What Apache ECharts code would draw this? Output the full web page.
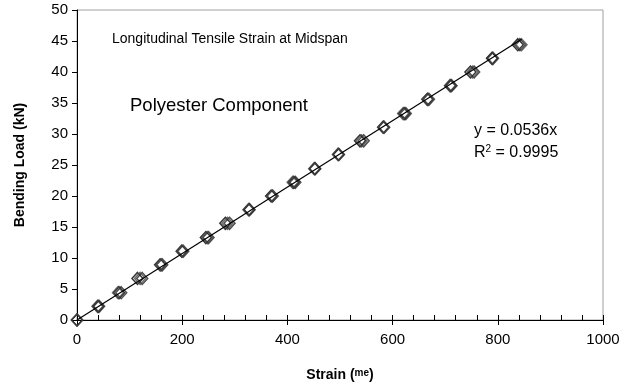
<!DOCTYPE html>
<html>
<head>
<meta charset="utf-8">
<script src="https://cdn.jsdelivr.net/npm/echarts@6/dist/echarts.min.js"></script>
<style>
  html, body { margin: 0; padding: 0; background: #fff; }
  #chart { width: 641px; height: 385px; }
</style>
</head>
<body>
<div id="chart"></div>
<script>
// load steps (kN)
const loads = [0, 2.2, 4.4, 6.7, 8.9, 11.1, 13.3, 15.6, 17.8, 20.0, 22.2, 24.4, 26.7, 28.9, 31.1, 33.3, 35.6, 37.8, 40.0, 42.2, 44.4]
// strain readings of the gauges
const gaugeA = [0, 40, 80, 115, 158, 199, 245, 282, 327, 369, 412, 452, 497, 538, 582, 622, 666, 710, 748, 789, 838]
const gaugeB = [0, 42, 84, 124, 162, 202, 250, 290, 328, 372, 415, 453, 498, 545, 584, 625, 669, 712, 755, 790, 842]
const gaugeC = [0, 39, 78, 120, 160, 200, 248, 286, 326, 371, 410, 451, 496, 541, 583, 620, 667, 709, 752, 791, 845]
// trendline end points
const trendX = [0, 845]
const trendY = [0, 45.3]

const font = '"Liberation Sans", Arial, sans-serif'

const pairs = (xs, ys) => xs.map((x, i) => [x, ys[i]])

const chart = echarts.init(document.getElementById('chart'))

const scatter = (name, xs, color) => ({
  name: name,
  type: 'scatter',
  xAxisIndex: 0,
  data: pairs(xs, loads),
  symbol: 'diamond',
  symbolSize: [11, 12],
  itemStyle: { color: 'rgba(255,255,255,0)', borderColor: color, borderWidth: 1.5 },
  z: 3,
})

chart.setOption({
  animation: false,
  grid: {
    left: 77, right: 38, top: 10, bottom: 65,
    outerBoundsMode: 'none',
    show: true, borderColor: '#a0a0a0', borderWidth: 1,
  },
  xAxis: [
    {
      type: 'value', min: 0, max: 1000, interval: 200,
      name: '{b|Strain (}{s|me}{b|)}',
      nameLocation: 'middle', nameGap: 48,
      nameTextStyle: {
        fontFamily: font, fontSize: 14, fontWeight: 'bold', color: '#000',
        rich: {
          b: { fontFamily: font, fontSize: 14, fontWeight: 'bold', color: '#000' },
          s: { fontFamily: font, fontSize: 10, color: '#000', padding: [0, 0, 4, 0] },
        },
      },
      axisLine: { show: true, lineStyle: { color: '#000', width: 1 } },
      axisTick: { show: true, inside: false, length: 5, lineStyle: { color: '#000' } },
      axisLabel: { fontFamily: font, fontSize: 15, color: '#000', margin: 12, formatter: v => String(v) },
      splitLine: { show: false },
    },
    {
      type: 'value', min: 0, max: 1000, interval: 40,
      position: 'bottom',
      axisLine: { show: false },
      axisTick: { show: true, inside: true, length: 5, lineStyle: { color: '#000' } },
      axisLabel: { show: false },
      splitLine: { show: false },
    },
  ],
  yAxis: {
    type: 'value', min: 0, max: 50, interval: 5,
    name: 'Bending Load (kN)',
    nameLocation: 'middle', nameGap: 50,
    nameTextStyle: { fontFamily: font, fontSize: 14, fontWeight: 'bold', color: '#000' },
    axisLine: { show: true, lineStyle: { color: '#000', width: 1 } },
    axisTick: { show: true, inside: false, length: 5, lineStyle: { color: '#000' } },
    axisLabel: { fontFamily: font, fontSize: 15, color: '#000', margin: 9 },
    splitLine: { show: false },
  },
  graphic: [
    {
      type: 'text', left: 112, top: 32,
      style: { text: 'Longitudinal Tensile Strain at Midspan', font: '14px ' + font, fill: '#000' },
    },
    {
      type: 'text', left: 130, top: 96,
      style: { text: 'Polyester Component', font: '18.5px ' + font, fill: '#000' },
    },
    {
      type: 'text', left: 474, top: 123,
      style: { text: 'y = 0.0536x', font: '16px ' + font, fill: '#000' },
    },
    {
      type: 'text', left: 474, top: 144,
      style: {
        text: 'R{s|2} = 0.9995',
        font: '16px ' + font, fill: '#000',
        rich: { s: { fontSize: 10, fontFamily: font, padding: [0, 0, 8, 0] } },
      },
    },
  ],
  series: [
    scatter('Gauge A', gaugeA, '#000'),
    scatter('Gauge B', gaugeB, '#222'),
    scatter('Gauge C', gaugeC, '#444'),
    {
      name: 'Trend',
      type: 'line',
      data: pairs(trendX, trendY),
      symbol: 'none',
      lineStyle: { color: '#000', width: 1.2 },
      z: 4,
    },
  ],
})
</script>
</body>
</html>
